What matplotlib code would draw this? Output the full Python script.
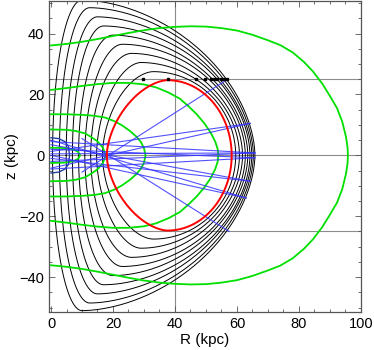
import numpy as np
import matplotlib
matplotlib.use("Agg")
import matplotlib.pyplot as plt
from matplotlib.ticker import MultipleLocator

plt.rcParams['font.family'] = ['Liberation Sans', 'DejaVu Sans']

# ---- black family of closed curves (upper half, mirrored) ----
# left foot R, peak R, peak height, right foot R, exponents
black_RL = [16.6, 14.7, 12.8, 10.9, 8.9, 6.9, 4.9, 2.7, 0.5]
black_RP = [33.0, 29.0, 26.0, 23.0, 20.0, 17.0, 15.0, 12.5, 10.0]
black_H = [27.5, 30.5, 33.5, 36.5, 39.5, 42.5, 45.5, 48.5, 51.0]
black_RR = [59.6, 60.8, 61.8, 62.7, 63.5, 64.2, 64.8, 65.3, 65.8]
black_m = [1.8, 1.8, 1.9, 1.9, 2.0, 2.0, 2.0, 2.0, 2.0]
black_q = [2.0, 1.95, 1.9, 1.9, 1.85, 1.85, 1.8, 1.8, 1.8]

# ---- red highlighted curve ----
red_RL, red_RP, red_H, red_RR, red_m, red_q = 18.0, 37.6, 24.7, 58.3, 1.7, 2.0

# ---- green curves (upper half points, mirrored) ----
green_curves = [
    [(0, 36.1), (5, 36.6), (10, 37.3), (15, 38.2), (20, 39.2), (25, 40.2), (30, 41.1),
     (35, 41.8), (40, 42.2), (45, 42.4), (50, 42.3), (55, 41.8), (60, 41.0), (65, 39.6),
     (70, 37.8), (74, 36.2), (78, 33.8), (81.5, 30.8), (84.5, 27.6), (87.5, 23.6),
     (90, 19.5), (92.3, 15.5), (94, 11.0), (95.2, 6.0), (95.7, 2.5), (95.8, 0)],
    [(0, 21.5), (5, 22.1), (10, 22.8), (15, 23.4), (20, 23.8), (25, 23.8), (30, 23.3),
     (34, 22.3), (38, 20.6), (41.6, 18.6), (44.5, 16.0), (47, 13.5), (49.5, 10.5),
     (51.5, 7.5), (53, 4.5), (53.8, 2.0), (54, 0)],
    [(0, 13.5), (5, 13.5), (10, 13.3), (14, 13.0), (17.5, 12.4), (20.5, 11.2), (23, 9.8),
     (25.5, 8.0), (27.5, 6.2), (29, 4.4), (30, 2.4), (30.5, 0)],
    [(0, 8.5), (5, 8.4), (8, 8.0), (11, 7.2), (13, 6.0), (15, 4.6), (16.7, 2.6), (17.7, 0)],
    [(0, 2.5), (4, 2.4), (7, 2.0), (8.7, 1.2), (9.4, 0)],
]

# ---- small dark blue inner contour ----
navy_curve = [(0, 5.8), (2.5, 5.5), (4.5, 4.5), (5.6, 3.0), (6.0, 0)]

# ---- blue rays: (R start, z start, R end, z end) ----
blue_rays = [
    (10, -5.5, 57.0, 25.0),
    (0, 1.3, 64.3, 10.5),
    (0, -4.2, 64.3, 10.5),
    (0, 4.5, 65.8, 0.8),
    (0, -2.0, 65.8, 0.8),
    (0, 0.5, 65.8, 0.8),
    (0, 2.0, 65.8, -0.8),
    (0, -4.5, 65.8, -0.8),
    (0, 3.5, 64.3, -8.5),
    (0, -1.0, 64.3, -8.5),
    (0, 5.0, 63.0, -14.0),
    (0, 0.0, 63.0, -14.0),
    (10, 5.5, 57.5, -25.0),
]

# ---- marked points on z = 25 ----
dot_R = [29.6, 37.6, 46.7, 49.7, 51.6, 52.7, 53.7, 54.7, 55.7, 56.8]
dot_z = [25.0] * len(dot_R)

# ---- reference grid lines ----
hlines = [0, 25, -25]
vlines = [40]


def closed_curve(RL, RP, H, RR, m, q, n=200):
    t = np.linspace(0, np.pi / 2, n)
    Rl = RP - (RP - RL) * np.cos(t) ** (2.0 / m)
    zl = H * np.sin(t) ** (2.0 / m)
    t2 = t[::-1]
    Rr = RP + (RR - RP) * np.cos(t2) ** (2.0 / q)
    zr = H * np.sin(t2) ** (2.0 / q)
    R_up = np.concatenate([Rl, Rr])
    z_up = np.concatenate([zl, zr])
    R = np.concatenate([R_up, R_up[::-1]])
    z = np.concatenate([z_up, -z_up[::-1]])
    return R, z


fig = plt.figure(figsize=(3.74, 3.5), dpi=100)
ax = fig.add_axes([0.131, 0.109, 0.834, 0.889])

for y in hlines:
    ax.axhline(y, color='#8c8c8c', lw=0.8, zorder=1)
for x in vlines:
    ax.axvline(x, color='#8c8c8c', lw=0.8, zorder=1)

for i in range(len(black_RL)):
    R, z = closed_curve(black_RL[i], black_RP[i], black_H[i], black_RR[i], black_m[i], black_q[i])
    ax.plot(R, z, color='black', lw=0.7, zorder=2)

for pts in green_curves:
    pts = np.array(pts)
    R = np.concatenate([pts[:, 0], pts[::-1, 0]])
    z = np.concatenate([pts[:, 1], -pts[::-1, 1]])
    ax.plot(R, z, color='#00e000', lw=1.3, zorder=3, solid_joinstyle='round')

nv = np.array(navy_curve)
ax.plot(np.concatenate([nv[:, 0], nv[::-1, 0]]), np.concatenate([nv[:, 1], -nv[::-1, 1]]),
        color='#2040a0', lw=1.0, zorder=3)

for (r0, z0, r1, z1) in blue_rays:
    ax.plot([r0, r1], [z0, z1], color='#3333ff', lw=0.8, alpha=0.85, zorder=4)

R, z = closed_curve(red_RL, red_RP, red_H, red_RR, red_m, red_q)
ax.plot(R, z, color='#ff0000', lw=1.4, zorder=5)

ax.plot(dot_R, dot_z, 's', color='black', ms=2.0, zorder=6)

ax.set_xlim(-0.65, 100)
ax.set_ylim(-51.4, 50.8)
ax.set_xticks([0, 20, 40, 60, 80, 100])
ax.set_yticks([-40, -20, 0, 20, 40])
ax.xaxis.set_minor_locator(MultipleLocator(5))
ax.yaxis.set_minor_locator(MultipleLocator(5))
ax.tick_params(which='both', direction='in', top=True, right=True, labelsize=10.5,
               color='#555555', width=0.6)
ax.tick_params(which='major', length=4)
ax.tick_params(which='minor', length=2)
for s in ax.spines.values():
    s.set_color('#555555')
    s.set_linewidth(0.9)

ax.set_xlabel('R (kpc)', fontsize=11, labelpad=2)
ax.set_ylabel('z (kpc)', fontsize=11, labelpad=0)

fig.savefig('out.png', dpi=100)
